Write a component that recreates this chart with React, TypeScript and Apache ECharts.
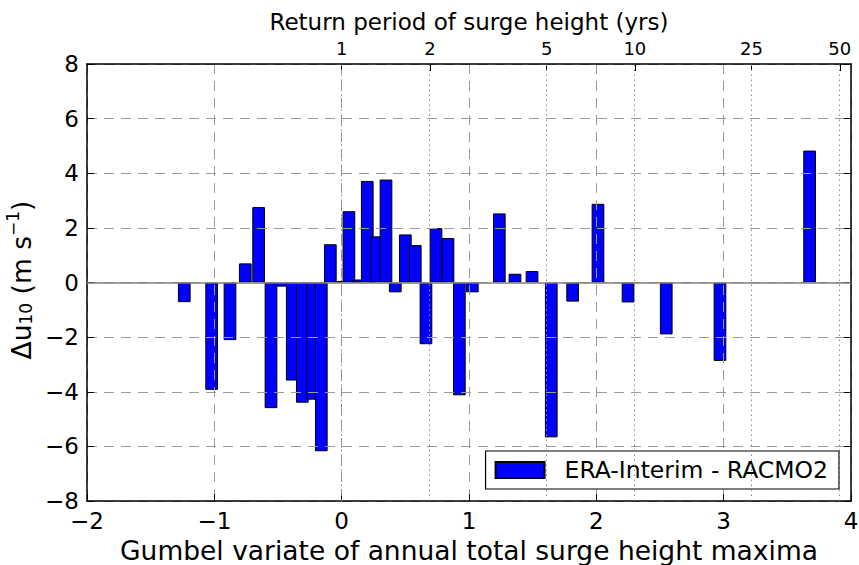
import React, { useEffect, useRef } from "react";
import * as echarts from "echarts";

// Gumbel variate (x) of each bar and the wind-speed difference (y)
const gumbelVariate = [
  -1.236, -1.021, -0.877, -0.757, -0.652, -0.555, -0.471, -0.388, -0.309, -0.228,
  -0.16, -0.089, -0.033, 0.057, 0.131, 0.201, 0.275, 0.348, 0.421, 0.5,
  0.578, 0.662, 0.741, 0.835, 0.924, 1.026, 1.238, 1.361, 1.495, 1.646,
  1.814, 2.013, 2.249, 2.549, 2.971, 3.675,
];
const deltaU10 = [
  -0.72, -3.93, -2.11, 0.7, 2.76, -4.6, -0.15, -3.59, -4.4, -4.29,
  -6.18, 1.4, 0.05, 2.61, 0.11, 3.72, 1.69, 3.77, -0.36, 1.76,
  1.37, -2.26, 1.99, 1.63, -4.13, -0.36, 2.53, 0.32, 0.42, -5.67,
  -0.7, 2.88, -0.73, -1.9, -2.87, 4.83,
];
const returnPeriods = [1, 2, 5, 10, 25, 50];
const seriesName = "ERA-Interim - RACMO2";

const FONT = "DejaVu Sans";
const minusFmt = (v: number) => (v < 0 ? "\u2212" + Math.abs(v) : String(v));

export default function App() {
  const ref = useRef<HTMLDivElement>(null);
  useEffect(() => {
    if (!ref.current) return;
    const chart = echarts.init(ref.current, undefined, { renderer: "svg" });
    const rpLog = returnPeriods.map((t) => Math.log(t));
    const frame = { color: "#000", width: 1.5 };
    const tick = { show: true, inside: true, length: 7, lineStyle: { color: "#000", width: 1 } };
    const grid = { show: true, lineStyle: { color: "#9a9a9a", width: 1, type: [10, 7] } };
    chart.setOption({
      animation: false,
      backgroundColor: "#fff",
      textStyle: { fontFamily: FONT },
      grid: {
        left: 87,
        top: 64,
        width: 764,
        height: 437,
        containLabel: false,
        outerBoundsMode: "none",
      },
      xAxis: [
        {
          type: "value",
          position: "bottom",
          min: -2,
          max: 4,
          interval: 1,
          z: 3,
          axisLine: { show: true, onZero: false, lineStyle: frame },
          axisTick: tick,
          axisLabel: { color: "#000", fontSize: 23, margin: 8, fontFamily: FONT, formatter: minusFmt },
          splitLine: grid,
          name: "Gumbel variate of annual total surge height maxima",
          nameLocation: "middle",
          nameGap: 36,
          nameTextStyle: { color: "#000", fontSize: 26.5, fontFamily: FONT },
        },
        {
          type: "value",
          position: "top",
          min: -2,
          max: 4,
          z: 3,
          axisLine: { show: true, onZero: false, lineStyle: frame },
          axisTick: { ...tick, customValues: rpLog },
          axisLabel: {
            color: "#000",
            fontSize: 18,
            margin: 7,
            fontFamily: FONT,
            customValues: rpLog,
            formatter: (v: number) => String(Math.round(Math.exp(v))),
          },
          splitLine: { show: false },
          name: "Return period of surge height (yrs)",
          nameLocation: "middle",
          nameGap: 31,
          nameTextStyle: { color: "#000", fontSize: 23, fontFamily: FONT },
        },
      ],
      yAxis: [
        {
          type: "value",
          position: "left",
          min: -8,
          max: 8,
          interval: 2,
          z: 3,
          axisLine: { show: true, onZero: false, lineStyle: frame },
          axisTick: tick,
          axisLabel: { color: "#000", fontSize: 23, margin: 8, fontFamily: FONT, formatter: minusFmt },
          splitLine: grid,
        },
        {
          type: "value",
          position: "right",
          min: -8,
          max: 8,
          interval: 2,
          z: 3,
          axisLine: { show: true, onZero: false, lineStyle: frame },
          axisTick: tick,
          axisLabel: { show: false },
          splitLine: { show: false },
        },
      ],
      legend: {
        data: [seriesName],
        right: 20,
        bottom: 76,
        orient: "horizontal",
        icon: "rect",
        itemWidth: 49,
        itemHeight: 16,
        padding: [7, 11, 7, 9],
        backgroundColor: "#fff",
        borderColor: "#000",
        borderWidth: 1.2,
        borderRadius: 0,
        textStyle: { color: "#000", fontSize: 23.5, fontFamily: FONT, padding: [0, 0, 0, 15] },
      },
      series: [
        {
          type: "bar",
          name: seriesName,
          xAxisIndex: 0,
          yAxisIndex: 0,
          barWidth: 12.7,
          data: gumbelVariate.map((g, i) => [g, deltaU10[i]]),
          itemStyle: { color: "#0000ff", borderColor: "#000", borderWidth: 1 },
          markLine: {
            silent: true,
            symbol: "none",
            label: { show: false },
            data: [
              ...rpLog.map((v) => ({
                xAxis: v,
                lineStyle: { color: "#8c8c8c", width: 1, type: [1.5, 3.5] },
              })),
              { yAxis: 0, lineStyle: { color: "#808080", width: 1.5, type: "solid" } },
            ],
          },
        },
      ],
      graphic: [
        {
          type: "text",
          x: 21,
          y: 280,
          rotation: Math.PI / 2,
          style: {
            text: "{a|\u0394u}{b|10}{a| (m s}{c|\u22121}{a|)}",
            align: "center",
            verticalAlign: "middle",
            fill: "#000",
            rich: {
              a: { fontSize: 26.5, fontFamily: FONT, fill: "#000" },
              b: { fontSize: 17, fontFamily: FONT, fill: "#000", padding: [10, 0, 0, 0] },
              c: { fontSize: 17, fontFamily: FONT, fill: "#000", padding: [0, 0, 16, 0] },
            },
          },
        },
      ],
    });
    return () => chart.dispose();
  }, []);
  return (
    <div
      ref={ref}
      style={{ position: "absolute", left: 0, top: 0, width: 859, height: 565 }}
    />
  );
}
